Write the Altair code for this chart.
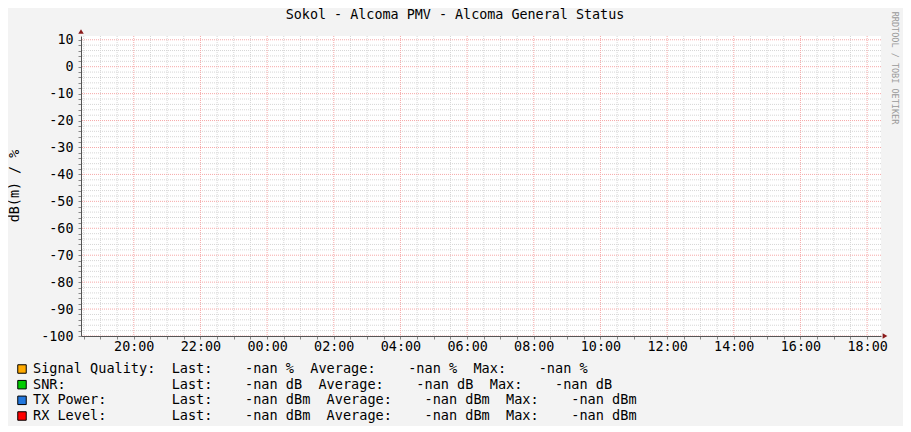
import altair as alt
import pandas as pd
from datetime import datetime, timedelta, timezone

# ---------------- data ----------------
TITLE = "Sokol - Alcoma PMV - Alcoma General Status"
Y_LABEL = "dB(m) / %"
WATERMARK = "RRDTOOL / TOBI OETIKER"

SERIES = ["Signal Quality:", "SNR:", "TX Power:", "RX Level:"]
UNITS = ["%", "dB", "dBm", "dBm"]
COLORS = ["#FFAA00", "#00CC00", "#2277DD", "#FF0000"]
LAST = ["-nan", "-nan", "-nan", "-nan"]
AVERAGE = ["-nan", "-nan", "-nan", "-nan"]
MAXIMUM = ["-nan", "-nan", "-nan", "-nan"]

Y_MIN, Y_MAX = -100, 11.4
Y_MAJOR = [10, 0, -10, -20, -30, -40, -50, -60, -70, -80, -90, -100]
Y_MINOR = [v for v in range(-100, 11, 2) if v % 10 != 0]

X_START = "2024-01-01 18:25"
X_END = "2024-01-02 18:25"
X_MAJOR = ["20:00", "22:00", "00:00", "02:00", "04:00", "06:00",
           "08:00", "10:00", "12:00", "14:00", "16:00", "18:00"]
MINOR_STEP_MIN = 30

# ---------------- helpers ----------------
def ms(dt):
    return int(dt.replace(tzinfo=timezone.utc).timestamp() * 1000)

t0 = datetime.strptime(X_START, "%Y-%m-%d %H:%M")
t1 = datetime.strptime(X_END, "%Y-%m-%d %H:%M")

major_dt = []
day = t0.replace(hour=0, minute=0)
prev = -1
for lab in X_MAJOR:
    h, m = map(int, lab.split(":"))
    if h < prev:
        day = day + timedelta(days=1)
    prev = h
    major_dt.append(day.replace(hour=h, minute=m))
major_ms = [ms(d) for d in major_dt]

minor_ms = []
cur = t0.replace(minute=0) + timedelta(minutes=MINOR_STEP_MIN)
while cur < t1:
    if cur > t0 and ms(cur) not in major_ms:
        minor_ms.append(ms(cur))
    cur += timedelta(minutes=MINOR_STEP_MIN)

all_x_ticks = sorted(major_ms + minor_ms)
all_y_ticks = sorted(Y_MAJOR + Y_MINOR)

FONT = "DejaVu Sans Mono"
FS = 13.4
FS_LEG = 13.55

x_scale = alt.Scale(type="utc", domain=[ms(t0), ms(t1)], nice=False)
y_scale = alt.Scale(domain=[Y_MIN, Y_MAX], nice=False, zero=False)

x_axis = alt.Axis(
    values=all_x_ticks, grid=False, title=None,
    labelExpr="(utcminutes(datum.value) == 0 && utchours(datum.value) % 2 == 0) ? utcFormat(datum.value, '%H:%M') : ''",
    labelFont=FONT, labelFontSize=FS, labelColor="#000000", labelPadding=0,
    labelFlush=False, labelOverlap=False, labelBound=False,
    tickSize=3, tickColor="#888888", domainColor="#555555", zindex=1,
)
y_axis = alt.Axis(
    values=all_y_ticks, grid=False, title=None,
    labelExpr="datum.value % 10 == 0 ? '' + datum.value : ''",
    labelFont=FONT, labelFontSize=FS, labelColor="#000000", labelPadding=5,
    labelFlush=False, labelOverlap=False, labelBound=False,
    tickSize=3, tickColor="#888888", domainColor="#555555", zindex=1,
)

X = alt.X("t:Q", scale=x_scale, axis=x_axis)
Y = alt.Y("v:Q", scale=y_scale, axis=y_axis)

df_y_minor = pd.DataFrame({"v": Y_MINOR})
df_y_major = pd.DataFrame({"v": Y_MAJOR})
df_x_minor = pd.DataFrame({"t": minor_ms})
df_x_major = pd.DataFrame({"t": major_ms})
df_top = pd.DataFrame({"t": [ms(t0)], "v": [Y_MAX]})
df_right = pd.DataFrame({"t": [ms(t1)], "v": [Y_MIN]})

MINOR_C = "#D6D6D6"
MAJOR_C = "#F6A8A8"

h_minor = alt.Chart(df_y_minor).mark_rule(color=MINOR_C, strokeDash=[1, 1], strokeWidth=1).encode(y=Y)
v_minor = alt.Chart(df_x_minor).mark_rule(color=MINOR_C, strokeDash=[1, 1], strokeWidth=1).encode(x=X)
h_major = alt.Chart(df_y_major).mark_rule(color=MAJOR_C, strokeDash=[1, 1], strokeWidth=1).encode(y=Y)
v_major = alt.Chart(df_x_major).mark_rule(color=MAJOR_C, strokeDash=[1, 1], strokeWidth=1).encode(x=X)
arrow_up = alt.Chart(df_top).mark_point(shape="triangle-up", filled=True, size=30,
                                        color="#8B1A1A", opacity=1, yOffset=-4.5).encode(x=X, y=Y)
arrow_right = alt.Chart(df_right).mark_point(shape="triangle-right", filled=True, size=30,
                                             color="#8B1A1A", opacity=1, xOffset=4).encode(x=X, y=Y)

grid = alt.layer(h_minor, v_minor, h_major, v_major, arrow_up, arrow_right)

# legend
def legend_line(i):
    s = (SERIES[i].ljust(17) + "Last:" + LAST[i].rjust(8) + " " + UNITS[i] + "  "
         + "Average:" + AVERAGE[i].rjust(8) + " " + UNITS[i] + "  "
         + "Max:" + MAXIMUM[i].rjust(8) + " " + UNITS[i])
    return s.replace(" ", "\u00a0")

df_leg = pd.DataFrame({
    "row": list(range(len(SERIES))),
    "label": SERIES,
    "line": [legend_line(i) for i in range(len(SERIES))],
})
ly = alt.Y("row:O", scale=alt.Scale(type="point", domain=list(range(len(SERIES))),
                                     range=[333, 380], padding=0), axis=None)
boxes = alt.Chart(df_leg).mark_point(shape="square", filled=True, size=72, opacity=1,
                                     stroke="#000000", strokeWidth=1).encode(
    x=alt.value(-59), y=ly,
    color=alt.Color("label:N", scale=alt.Scale(domain=SERIES, range=COLORS), legend=None),
)
texts = alt.Chart(df_leg).mark_text(align="left", baseline="middle", font=FONT, fontSize=FS_LEG,
                                    color="#000000").encode(
    x=alt.value(-48), y=ly, text="line:N")
legend = alt.layer(boxes, texts)

df_title = pd.DataFrame({"s": [TITLE]})
title = alt.Chart(df_title).mark_text(align="center", baseline="middle", font=FONT, fontSize=FS,
                                      color="#000000").encode(x=alt.value(374), y=alt.value(-21), text="s:N")
df_ylab = pd.DataFrame({"s": [Y_LABEL]})
ylab = alt.Chart(df_ylab).mark_text(align="center", baseline="middle", font=FONT, fontSize=FS,
                                    angle=270, color="#000000").encode(x=alt.value(-66), y=alt.value(150), text="s:N")
df_wm = pd.DataFrame({"s": [WATERMARK]})
wm = alt.Chart(df_wm).mark_text(align="center", baseline="middle", font=FONT, fontSize=8.5,
                                angle=90, color="#9A9A9A").encode(x=alt.value(814), y=alt.value(32), text="s:N")

chart = alt.layer(grid, legend, title, ylab, wm).resolve_scale(
    x="independent", y="independent", color="independent"
).properties(
    width=800, height=300,
    autosize=alt.AutoSizeParams(type="none"),
    padding={"left": 73, "top": 28, "right": 22, "bottom": 90},
    background="#F3F3F3",
).configure_view(fill="#FFFFFF", strokeWidth=0)

chart.save("out.html", embed_options={"renderer": "svg", "actions": False})
